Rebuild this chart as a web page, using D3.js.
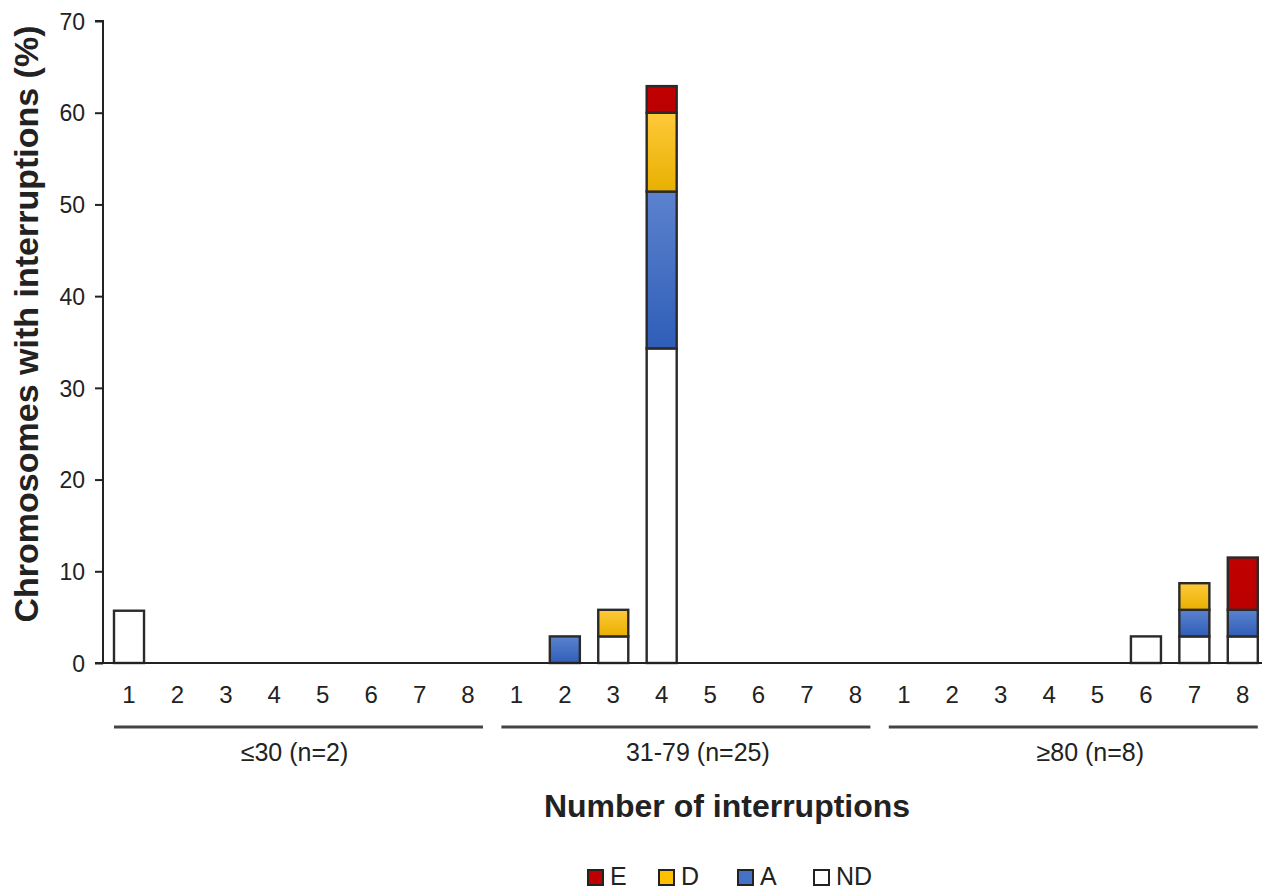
<!DOCTYPE html>
<html><head><meta charset="utf-8">
<script src="https://cdn.jsdelivr.net/npm/d3@7"></script>
<style>body{margin:0;background:#fff}svg{display:block}text{font-family:"Liberation Sans",Arial,sans-serif;fill:#222}</style>
</head><body>
<svg id="c" width="1262" height="890"></svg>
<script>
const groups = ["≤30 (n=2)", "31-79 (n=25)", "≥80 (n=8)"];
const interruptions = ["1","2","3","4","5","6","7","8"];
const seriesNames = ["ND","A","D","E"];
const seriesLegend = ["E","D","A","ND"];
// values per group, per interruption count (1..8)
const ND = [[5.7,0,0,0,0,0,0,0],[0,0,2.9,34.3,0,0,0,0],[0,0,0,0,0,2.9,2.9,2.9]];
const A  = [[0,0,0,0,0,0,0,0],[0,2.9,0,17.1,0,0,0,0],[0,0,0,0,0,0,2.9,2.9]];
const D  = [[0,0,0,0,0,0,0,0],[0,0,2.9,8.6,0,0,0,0],[0,0,0,0,0,0,2.9,0]];
const E  = [[0,0,0,0,0,0,0,0],[0,0,0,2.9,0,0,0,0],[0,0,0,0,0,0,0,5.7]];
const yTicks = [0,10,20,30,40,50,60,70];

const seriesData = {ND, A, D, E};
const colors = {E:"#C00000", D:"#FFC000", A:"#4472C4", ND:"#FFFFFF"};

const rows = [];
groups.forEach((g,gi)=>interruptions.forEach((n,ni)=>{
  const r = {key: gi+"-"+n, group: gi, label: n};
  seriesNames.forEach(s=>r[s]=seriesData[s][gi][ni]);
  rows.push(r);
}));

const svg = d3.select("#c");
const defs = svg.append("defs");
function grad(id, c1, c2){
  const lg = defs.append("linearGradient").attr("id",id).attr("x1",0).attr("y1",0).attr("x2",0).attr("y2",1);
  lg.append("stop").attr("offset","0%").attr("stop-color",c1);
  lg.append("stop").attr("offset","100%").attr("stop-color",c2);
}
grad("gA","#5C82CE","#2F5EB8");
grad("gD","#FFC93A","#E8B000");
grad("gE","#C20000","#BA0000");
const fillOf = {E:"url(#gE)", D:"url(#gD)", A:"url(#gA)", ND:"#FFFFFF"};

const x = d3.scaleBand().domain(rows.map(r=>r.key)).range([104.8,1267]).paddingInner(0.38).paddingOuter(0.19);
const y = d3.scaleLinear().domain([0,70]).range([663,21]);

const stack = d3.stack().keys(seriesNames)(rows);

// bars
stack.forEach(layer=>{
  svg.append("g").selectAll("rect").data(layer.filter(d=>d[1]-d[0]>0)).join("rect")
    .attr("x",d=>x(d.data.key)).attr("width",x.bandwidth())
    .attr("y",d=>y(d[1])).attr("height",d=>y(d[0])-y(d[1]))
    .attr("fill",fillOf[layer.key]).attr("stroke","#2a2a2a").attr("stroke-width",2.4);
});

// y axis
const yAxis = svg.append("g").attr("transform","translate(103,0)")
  .call(d3.axisLeft(y).tickValues(yTicks).tickSize(8).tickPadding(10));
yAxis.select(".domain").attr("stroke","#222").attr("stroke-width",2).attr("d","M-8,21H0V663");
yAxis.selectAll(".tick line").attr("stroke","#222").attr("stroke-width",2);
yAxis.selectAll("text").style("font-size","23px").attr("fill","#222").attr("dy","0.36em")
  .style("font-family","Liberation Sans, Arial, sans-serif");

// baseline
svg.append("line").attr("x1",95).attr("x2",1262).attr("y1",y(0)).attr("y2",y(0)).attr("stroke","#222").attr("stroke-width",2);

// category labels
svg.append("g").selectAll("text").data(rows).join("text")
  .attr("x",d=>x(d.key)+x.bandwidth()/2).attr("y",703)
  .attr("text-anchor","middle").style("font-size","24px").text(d=>d.label);

// group brackets
groups.forEach((g,gi)=>{
  const first = x(gi+"-1"), last = x(gi+"-8")+x.bandwidth();
  svg.append("line").attr("x1",first).attr("x2",last).attr("y1",727).attr("y2",727)
    .attr("stroke","#444").attr("stroke-width",3);
  svg.append("text").attr("x",(first+last)/2 + [ -4, 12, 17 ][gi]).attr("y",761)
    .attr("text-anchor","middle").style("font-size","25px").text(g);
});

// axis titles
svg.append("text").attr("x",727).attr("y",817).attr("text-anchor","middle")
  .style("font-size","32px").style("font-weight","bold").text("Number of interruptions");
svg.append("text").attr("transform","translate(38,324) rotate(-90)").attr("text-anchor","middle")
  .style("font-size","34px").style("font-weight","bold").text("Chromosomes with interruptions (%)");

// legend
const legX = [588, 659, 738, 814];
const lg = svg.append("g");
seriesLegend.forEach((s,i)=>{
  lg.append("rect").attr("x",legX[i]).attr("y",870).attr("width",15).attr("height",15)
    .attr("fill",colors[s]).attr("stroke","#222").attr("stroke-width",2);
  lg.append("text").attr("x",legX[i]+22).attr("y",885).style("font-size","25px").text(s);
});
</script>
</body></html>
